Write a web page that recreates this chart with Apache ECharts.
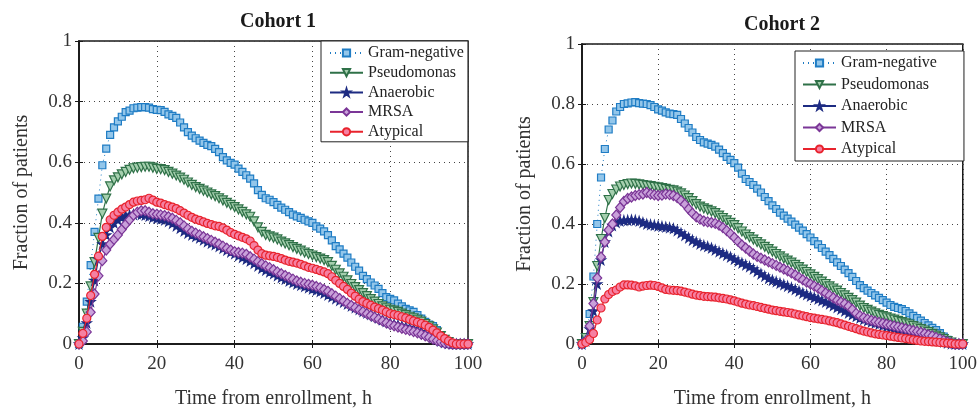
<!DOCTYPE html>
<html>
<head>
<meta charset="utf-8">
<script src="https://cdn.jsdelivr.net/npm/echarts@6/dist/echarts.min.js"></script>
<style>html,body{margin:0;padding:0;background:#fff;}#c{width:980px;height:414px;}</style>
</head>
<body>
<div id="c"></div>
<script>
// ---- Data ----
const hours = [
  0,1,2,3,4,5,6,7,8,9,
  10,11,12,13,14,15,16,17,18,19,
  20,21,22,23,24,25,26,27,28,29,
  30,31,32,33,34,35,36,37,38,39,
  40,41,42,43,44,45,46,47,48,49,
  50,51,52,53,54,55,56,57,58,59,
  60,61,62,63,64,65,66,67,68,69,
  70,71,72,73,74,75,76,77,78,79,
  80,81,82,83,84,85,86,87,88,89,
  90,91,92,93,94,95,96,97,98,99,
  100];
const seriesNames = ['Gram-negative','Pseudomonas','Anaerobic','MRSA','Atypical'];
const xTicks = [0,20,40,60,80,100];
const yTicks = [0,0.2,0.4,0.6,0.8,1];

// Cohort 1
const gramNeg1 = [
  0,0.057,0.14,0.26,0.37,0.48,0.59,0.645,0.69,0.715,
  0.735,0.75,0.765,0.77,0.778,0.78,0.782,0.782,0.78,0.775,
  0.773,0.772,0.766,0.758,0.753,0.746,0.731,0.715,0.699,0.688,
  0.679,0.671,0.664,0.657,0.653,0.644,0.633,0.617,0.606,0.598,
  0.592,0.579,0.568,0.557,0.546,0.53,0.508,0.492,0.481,0.476,
  0.468,0.459,0.45,0.443,0.435,0.427,0.421,0.416,0.41,0.405,
  0.4,0.388,0.381,0.372,0.359,0.342,0.323,0.312,0.298,0.285,
  0.269,0.255,0.242,0.225,0.214,0.203,0.193,0.182,0.168,0.155,
  0.149,0.144,0.133,0.124,0.116,0.111,0.106,0.095,0.084,0.073,
  0.064,0.059,0.046,0.029,0.015,0.008,0.002,0,0,0,
  0];
const pseudo1 = [
  0,0.04,0.10,0.19,0.27,0.35,0.43,0.48,0.52,0.54,
  0.55,0.56,0.568,0.575,0.58,0.582,0.584,0.585,0.585,0.582,
  0.578,0.577,0.574,0.568,0.562,0.556,0.549,0.542,0.533,0.525,
  0.518,0.512,0.506,0.5,0.494,0.488,0.481,0.474,0.466,0.459,
  0.452,0.444,0.436,0.428,0.42,0.405,0.385,0.37,0.36,0.355,
  0.351,0.345,0.338,0.332,0.326,0.32,0.314,0.308,0.302,0.297,
  0.292,0.287,0.282,0.277,0.27,0.258,0.245,0.233,0.222,0.21,
  0.198,0.188,0.178,0.168,0.158,0.148,0.14,0.132,0.124,0.118,
  0.113,0.11,0.106,0.1,0.095,0.09,0.085,0.08,0.074,0.066,
  0.058,0.048,0.038,0.026,0.014,0.006,0,0,0,0,
  0];
const anaer1 = [
  0,0.02,0.07,0.14,0.21,0.28,0.33,0.36,0.385,0.4,
  0.41,0.418,0.423,0.426,0.428,0.43,0.428,0.425,0.422,0.418,
  0.415,0.413,0.41,0.405,0.398,0.39,0.382,0.373,0.366,0.36,
  0.355,0.35,0.344,0.338,0.333,0.328,0.322,0.316,0.31,0.304,
  0.298,0.292,0.286,0.28,0.274,0.266,0.258,0.25,0.244,0.238,
  0.232,0.226,0.22,0.214,0.208,0.203,0.198,0.194,0.19,0.186,
  0.182,0.178,0.174,0.168,0.162,0.156,0.15,0.144,0.138,0.132,
  0.126,0.12,0.114,0.108,0.103,0.098,0.092,0.086,0.08,0.075,
  0.07,0.066,0.063,0.06,0.057,0.054,0.05,0.046,0.041,0.035,
  0.029,0.022,0.016,0.01,0.005,0.002,0,0,0,0,
  0];
const mrsa1 = [
  0,0.01,0.04,0.105,0.165,0.225,0.275,0.31,0.33,0.345,
  0.36,0.378,0.395,0.41,0.425,0.435,0.44,0.44,0.435,0.43,
  0.428,0.426,0.424,0.42,0.415,0.408,0.4,0.39,0.38,0.372,
  0.366,0.36,0.354,0.348,0.342,0.336,0.33,0.323,0.316,0.31,
  0.305,0.302,0.3,0.296,0.288,0.28,0.272,0.265,0.258,0.252,
  0.245,0.238,0.232,0.226,0.22,0.214,0.208,0.204,0.2,0.197,
  0.194,0.19,0.186,0.18,0.174,0.166,0.158,0.15,0.142,0.134,
  0.127,0.12,0.113,0.107,0.1,0.094,0.088,0.082,0.076,0.07,
  0.064,0.06,0.056,0.052,0.048,0.045,0.041,0.037,0.032,0.027,
  0.022,0.016,0.011,0.007,0.003,0.001,0,0,0,0,
  0];
const atyp1 = [
  0,0.035,0.085,0.16,0.23,0.29,0.355,0.385,0.41,0.425,
  0.435,0.445,0.452,0.46,0.468,0.472,0.474,0.476,0.481,0.475,
  0.468,0.465,0.46,0.456,0.452,0.447,0.44,0.432,0.425,0.418,
  0.412,0.408,0.403,0.398,0.394,0.39,0.388,0.383,0.376,0.368,
  0.362,0.357,0.352,0.347,0.34,0.325,0.31,0.298,0.293,0.291,
  0.289,0.286,0.282,0.277,0.273,0.27,0.267,0.263,0.258,0.253,
  0.25,0.246,0.242,0.238,0.232,0.222,0.21,0.2,0.19,0.18,
  0.168,0.158,0.148,0.14,0.134,0.128,0.122,0.117,0.112,0.106,
  0.1,0.097,0.094,0.09,0.086,0.081,0.076,0.072,0.068,0.062,
  0.055,0.046,0.037,0.027,0.018,0.01,0.004,0,0,0,
  0];

// Cohort 2
const gramNeg2 = [
  0,0.02,0.1,0.225,0.4,0.555,0.65,0.715,0.745,0.775,
  0.79,0.8,0.802,0.805,0.806,0.803,0.801,0.8,0.796,0.79,
  0.782,0.778,0.772,0.768,0.766,0.764,0.75,0.735,0.72,0.705,
  0.69,0.68,0.672,0.668,0.664,0.658,0.648,0.636,0.624,0.614,
  0.603,0.588,0.568,0.55,0.54,0.53,0.518,0.505,0.49,0.476,
  0.462,0.45,0.438,0.428,0.418,0.408,0.398,0.388,0.378,0.366,
  0.355,0.343,0.332,0.32,0.308,0.296,0.284,0.272,0.26,0.248,
  0.236,0.224,0.21,0.196,0.186,0.178,0.17,0.162,0.154,0.146,
  0.138,0.13,0.124,0.12,0.116,0.11,0.102,0.094,0.086,0.078,
  0.07,0.062,0.054,0.046,0.036,0.025,0.014,0.006,0,0,
  0];
const pseudo2 = [
  0,0.02,0.06,0.14,0.26,0.35,0.42,0.48,0.5,0.515,
  0.525,0.53,0.533,0.535,0.534,0.532,0.53,0.528,0.526,0.524,
  0.522,0.52,0.517,0.514,0.512,0.508,0.502,0.495,0.486,0.476,
  0.466,0.458,0.452,0.447,0.442,0.436,0.428,0.42,0.412,0.404,
  0.396,0.386,0.375,0.365,0.356,0.348,0.34,0.332,0.324,0.316,
  0.308,0.3,0.292,0.285,0.278,0.271,0.264,0.256,0.248,0.24,
  0.232,0.224,0.216,0.208,0.2,0.192,0.185,0.178,0.17,0.162,
  0.154,0.146,0.138,0.128,0.12,0.114,0.108,0.102,0.097,0.093,
  0.089,0.085,0.081,0.077,0.073,0.069,0.065,0.06,0.055,0.05,
  0.045,0.04,0.034,0.028,0.022,0.016,0.01,0.005,0,0,
  0];
const anaer2 = [
  0,0.01,0.05,0.11,0.2,0.28,0.34,0.375,0.395,0.405,
  0.41,0.412,0.413,0.414,0.413,0.41,0.405,0.4,0.398,0.396,
  0.394,0.392,0.39,0.388,0.385,0.378,0.37,0.362,0.354,0.346,
  0.34,0.334,0.329,0.325,0.32,0.314,0.308,0.302,0.296,0.29,
  0.283,0.276,0.27,0.264,0.258,0.25,0.242,0.234,0.226,0.219,
  0.213,0.208,0.203,0.198,0.193,0.188,0.182,0.176,0.17,0.165,
  0.16,0.155,0.15,0.145,0.14,0.134,0.128,0.122,0.116,0.11,
  0.104,0.098,0.092,0.087,0.082,0.078,0.074,0.07,0.066,0.062,
  0.058,0.055,0.052,0.049,0.046,0.043,0.04,0.037,0.034,0.031,
  0.027,0.023,0.019,0.015,0.011,0.007,0.004,0.001,0,0,
  0];
const mrsa2 = [
  0,0.01,0.06,0.135,0.22,0.29,0.34,0.38,0.4,0.43,
  0.455,0.475,0.485,0.49,0.495,0.498,0.5,0.505,0.5,0.497,
  0.495,0.496,0.5,0.498,0.495,0.488,0.478,0.466,0.45,0.436,
  0.424,0.416,0.41,0.407,0.405,0.402,0.396,0.388,0.378,0.367,
  0.355,0.342,0.33,0.32,0.31,0.3,0.292,0.286,0.28,0.274,
  0.268,0.262,0.256,0.25,0.244,0.237,0.23,0.222,0.214,0.206,
  0.2,0.193,0.186,0.178,0.17,0.162,0.154,0.146,0.14,0.134,
  0.126,0.115,0.102,0.094,0.088,0.083,0.079,0.075,0.072,0.069,
  0.066,0.063,0.06,0.057,0.054,0.051,0.048,0.045,0.042,0.039,
  0.035,0.031,0.027,0.022,0.017,0.012,0.007,0.003,0,0,
  0];
const atyp2 = [
  0,0.005,0.015,0.035,0.08,0.12,0.15,0.165,0.175,0.18,
  0.19,0.197,0.197,0.196,0.194,0.19,0.193,0.195,0.196,0.195,
  0.192,0.187,0.182,0.18,0.179,0.178,0.176,0.173,0.17,0.166,
  0.163,0.161,0.159,0.158,0.157,0.156,0.154,0.152,0.15,0.147,
  0.144,0.14,0.136,0.133,0.13,0.128,0.125,0.122,0.119,0.116,
  0.113,0.111,0.109,0.107,0.105,0.103,0.1,0.097,0.094,0.091,
  0.088,0.086,0.084,0.082,0.08,0.077,0.074,0.071,0.067,0.063,
  0.059,0.055,0.051,0.047,0.043,0.04,0.037,0.034,0.032,0.03,
  0.028,0.026,0.024,0.022,0.02,0.018,0.016,0.014,0.012,0.01,
  0.009,0.008,0.007,0.006,0.005,0.004,0.003,0.002,0,0,
  0];

const cohortTitles = ['Cohort 1','Cohort 2'];
const cohortData = [
  [gramNeg1, pseudo1, anaer1, mrsa1, atyp1],
  [gramNeg2, pseudo2, anaer2, mrsa2, atyp2]
];

// ---- Styles ----
const FONT = '"Liberation Serif", "DejaVu Serif", serif';
const STAR = 'path://M50,0 L61,35 L98,35 L68,57 L79,91 L50,70 L21,91 L32,57 L2,35 L39,35 Z';
const styles = [
  {line:'#1f7cc4', fill:'#93c6ea', border:'#1f7cc4', symbol:'rect', size:7, rotate:0, lineType:[1,4], lw:1},
  {line:'#2f7148', fill:'#a5cfae', border:'#2f7148', symbol:'triangle', size:9, rotate:180, lineType:'solid', lw:1.2},
  {line:'#1d2b82', fill:'#1d2b82', border:'#1d2b82', symbol:STAR, size:9, rotate:0, lineType:'solid', lw:1.2},
  {line:'#7b3697', fill:'#c9a1da', border:'#7b3697', symbol:'diamond', size:[9,10], rotate:0, lineType:'solid', lw:1.2},
  {line:'#e8232d', fill:'#f680a2', border:'#e8232d', symbol:'circle', size:8, rotate:0, lineType:'solid', lw:1.2}
];

const grids = [
  {left:79, top:41, width:389, height:306},
  {left:582, top:44, width:389, height:307}
];

const legendBase = {
  data:seriesNames, orient:'vertical', itemWidth:33, itemHeight:9,
  backgroundColor:'#fff', borderColor:'#222', borderWidth:1, borderRadius:0,
  textStyle:{fontFamily:FONT, fontSize:16, color:'#222'}, selectedMode:false
};

const option = {
  animation:false,
  backgroundColor:'#fff',
  title: [
    {text:cohortTitles[0], left:273, top:7, textAlign:'center', textStyle:{fontFamily:FONT, fontWeight:'bold', fontSize:20, color:'#1a1a1a'}},
    {text:cohortTitles[1], left:777, top:10, textAlign:'center', textStyle:{fontFamily:FONT, fontWeight:'bold', fontSize:20, color:'#1a1a1a'}}
  ],
  legend: [
    Object.assign({}, legendBase, {left:321, top:41, itemGap:3.7, padding:[4,4,2,8]}),
    Object.assign({}, legendBase, {left:795, top:51, itemGap:5.5, padding:[4,27,4,7]})
  ],
  grid: grids.map(g => Object.assign({show:true, borderColor:'#1a1a1a', borderWidth:1.5, backgroundColor:'transparent', containLabel:false}, g)),
  xAxis: [],
  yAxis: [],
  series: []
};

for (let k = 0; k < 2; k++) {
  option.xAxis.push({
    type:'value', gridIndex:k, min:xTicks[0], max:xTicks[xTicks.length-1], interval:20,
    name:'Time from enrollment, h', nameLocation:'middle', nameGap:45,
    nameTextStyle:{fontFamily:FONT, fontSize:20, color:'#333'},
    axisLine:{show:true, lineStyle:{color:'#1a1a1a', width:1.5}},
    axisTick:{show:true, inside:true, length:4, lineStyle:{color:'#1a1a1a'}},
    axisLabel:{fontFamily:FONT, fontSize:19, color:'#333', margin:11},
    splitLine:{show:true, lineStyle:{color:'#444', type:[1,4], width:1}}
  });
  option.xAxis.push({
    type:'value', gridIndex:k, position:'top', min:0, max:100, interval:20,
    axisLine:{show:true, lineStyle:{color:'#1a1a1a', width:1.5}},
    axisTick:{show:true, inside:true, length:4, lineStyle:{color:'#1a1a1a'}},
    axisLabel:{show:false}, splitLine:{show:false}
  });
  option.yAxis.push({
    type:'value', gridIndex:k, min:yTicks[0], max:yTicks[yTicks.length-1], interval:0.2,
    name:'Fraction of patients', nameLocation:'middle', nameGap:47,
    nameTextStyle:{fontFamily:FONT, fontSize:20, color:'#333'},
    axisLine:{show:true, lineStyle:{color:'#1a1a1a', width:1.5}},
    axisTick:{show:true, inside:true, length:4, lineStyle:{color:'#1a1a1a'}},
    axisLabel:{fontFamily:FONT, fontSize:19, color:'#333', margin:7,
      formatter: v => String(Math.round(v*10)/10)},
    splitLine:{show:true, lineStyle:{color:'#444', type:[1,4], width:1}}
  });
  option.yAxis.push({
    type:'value', gridIndex:k, position:'right', min:0, max:1, interval:0.2,
    axisLine:{show:true, lineStyle:{color:'#1a1a1a', width:1.5}},
    axisTick:{show:true, inside:true, length:4, lineStyle:{color:'#1a1a1a'}},
    axisLabel:{show:false}, splitLine:{show:false}
  });
  cohortData[k].forEach((vals, i) => {
    const s = styles[i];
    option.series.push({
      name:seriesNames[i], type:'line', xAxisIndex:k*2, yAxisIndex:k*2,
      data: hours.map((h, j) => [h, vals[j]]),
      symbol:s.symbol, symbolSize:s.size, symbolRotate:s.rotate, showAllSymbol:true,
      lineStyle:{color:s.line, width:s.lw, type:s.lineType},
      itemStyle:{color:s.fill, borderColor:s.border, borderWidth:1.2},
      emphasis:{disabled:true}, z:2+i
    });
  });
}

const chart = echarts.init(document.getElementById('c'), null, {renderer:'canvas'});
chart.setOption(option);
</script>
</body>
</html>
